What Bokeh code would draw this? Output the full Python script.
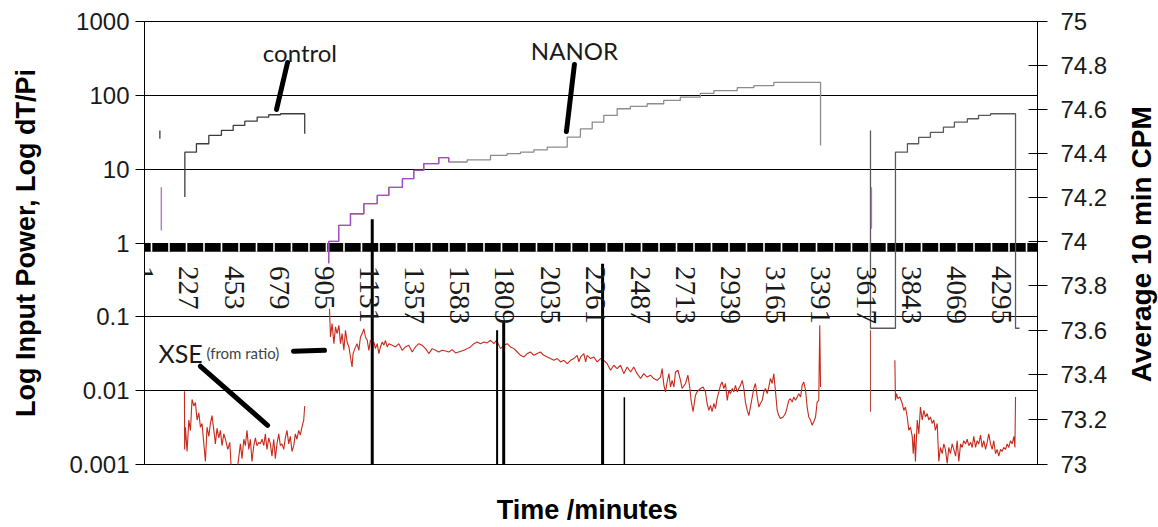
import math
import numpy as np
from bokeh.plotting import figure
from bokeh.layouts import row
from bokeh.core.properties import value
from bokeh.models import (Range1d, LinearAxis, FixedTicker, CustomJSTickFormatter,
                          Label, LabelSet, ColumnDataSource)
from bokeh.embed import file_html
from bokeh.resources import INLINE

# ---------------- data ----------------
x_tick_vals = [1, 227, 453, 679, 905, 1131, 1357, 1583, 1809, 2035, 2261, 2487,
               2713, 2939, 3165, 3391, 3617, 3843, 4069, 4295]
left_ticks = [0.001, 0.01, 0.1, 1, 10, 100, 1000]
grid_ticks = [0.01, 0.1, 1, 10, 100]
right_ticks = [73, 73.2, 73.4, 73.6, 73.8, 74, 74.2, 74.4, 74.6, 74.8, 75]

# control run 1 (step)
control1_x = [207, 207, 265, 327, 390, 449, 507, 569, 627, 686, 807]
control1_y = [4.19, 17.0, 22.1, 28.7, 33.5, 39.1, 44.7, 50.7, 54.6, 56.3, 30.2]
# control run 2 (step)
control2_x = [3639, 3639, 3764, 3824, 3880, 3939, 4004, 4059, 4124, 4180, 4240, 4365, 4385]
control2_y = [33.5, 0.070, 17.0, 22.1, 27.0, 31.5, 37.1, 43.3, 48.2, 53.4, 56.3, 0.070, 0.070]
# short start marks
ctrl_mark_x = [82]
ctrl_mark_y0 = [33.5]
ctrl_mark_y1 = [25.8]
nanor_mark_x = [89, 3644]
nanor_mark_y0 = [5.7, 5.7]
nanor_mark_y1 = [1.48, 1.56]

# NANOR (step)
nanor_x = [927, 927, 977, 1036, 1103, 1170, 1228, 1296, 1353, 1403, 1478, 1528, 1620,
           1737, 1820, 1887, 1954, 2021, 2121, 2187, 2246, 2304, 2371, 2437, 2521,
           2604, 2687, 2787, 2855, 2972, 3055, 3155, 3389]
nanor_y = [0.53, 1.05, 1.73, 2.49, 3.41, 4.41, 5.66, 7.43, 9.62, 11.9, 14.3, 12.5, 13.4,
           15.4, 16.2, 17.0, 18.3, 19.9, 27.2, 35.2, 43.3, 53.4, 65.8, 70.8, 76.9,
           85.3, 94.5, 106, 116, 127, 135, 150, 21.0]

# XSE (from ratio)
xse_left_x = [205, 206, 210, 218, 227, 235, 243, 252, 260, 268, 277, 285, 293, 302, 310,
              318, 327, 335, 343, 352, 360, 368, 377, 385, 393, 402, 410, 422, 432, 438,
              443, 452, 468, 485, 493, 502, 510, 518, 527, 535, 543, 552, 560, 568, 577,
              585, 593, 602, 610, 618, 627, 635, 643, 652, 660, 668, 677, 685, 693, 702,
              710, 718, 727, 735, 743, 752, 760, 768, 777, 785, 793, 802, 807]
xse_left_y = [0.0098, 0.0016, 0.0032, 0.0015, 0.0040, 0.0029, 0.0076, 0.0062, 0.0069, 0.0040,
              0.0050, 0.0032, 0.0036, 0.0019, 0.0011, 0.0032, 0.0024, 0.0036, 0.0046, 0.0029,
              0.0019, 0.0031, 0.0023, 0.0029, 0.0018, 0.0026, 0.0022, 0.0016, 0.0020, 0.00101,
              0.0008, 0.0009, 0.0008, 0.0019, 0.0012, 0.0022, 0.0018, 0.0029, 0.0016, 0.0022,
              0.0011, 0.0018, 0.0023, 0.0018, 0.0020, 0.0019, 0.0022, 0.0018, 0.0026, 0.0016,
              0.0023, 0.0019, 0.0013, 0.0022, 0.0012, 0.0019, 0.0026, 0.0018, 0.0019, 0.0016,
              0.0023, 0.0029, 0.0019, 0.0024, 0.0015, 0.0018, 0.0026, 0.0022, 0.0029, 0.0025,
              0.0032, 0.0040, 0.0062]

xse_mid_x = [931, 936, 944, 953, 961, 969, 978, 986, 994, 1003, 1011, 1019, 1028, 1036, 1044,
             1049, 1058, 1069, 1078, 1086, 1095, 1103, 1111, 1120, 1128, 1136, 1145, 1153,
             1161, 1170, 1178, 1186, 1195, 1203, 1211, 1220, 1228, 1245, 1261, 1278, 1295,
             1311, 1328, 1345, 1361, 1378, 1395, 1412, 1428, 1445, 1462, 1478, 1495, 1512,
             1528, 1545, 1562,
             1604, 1620, 1637, 1654, 1670, 1687, 1704, 1720, 1737, 1754, 1767, 1787, 1804,
             1821, 1837, 1854, 1871, 1887, 1904, 1921, 1937, 1954, 1971, 1987, 2004, 2021,
             2037, 2054, 2071, 2088, 2104, 2121, 2138, 2154, 2171, 2179, 2188, 2204, 2213,
             2221, 2238, 2254, 2271,
             2288, 2304, 2321, 2338, 2354, 2371, 2388, 2404, 2421, 2438, 2454, 2471, 2488,
             2504, 2521, 2538, 2554, 2571, 2588, 2596, 2605, 2613, 2621, 2630, 2638, 2646,
             2655, 2663, 2675, 2688, 2696, 2713, 2725, 2735, 2741, 2751, 2763, 2771, 2788,
             2801, 2813, 2821, 2830, 2838, 2846, 2855, 2863, 2871, 2880, 2888, 2896, 2905,
             2913, 2922, 2930, 2938, 2947, 2955, 2963, 2972, 2980, 2988, 2997, 3005, 3013,
             3022, 3030, 3038, 3047, 3055, 3063, 3072, 3080, 3088, 3097, 3105, 3113, 3122,
             3130, 3138, 3147, 3155, 3163, 3172, 3180, 3188, 3202, 3213, 3222, 3230, 3238,
             3247, 3255, 3264, 3272, 3280, 3289, 3297, 3305, 3314, 3322, 3330, 3339, 3347,
             3355, 3364, 3372, 3380, 3385, 3389]
xse_mid_y = [0.129, 0.0533, 0.081, 0.0433, 0.073, 0.0593, 0.0767, 0.0433, 0.0593, 0.0352,
             0.0657, 0.0456, 0.0391, 0.0286, 0.0209, 0.0318, 0.0371, 0.0433, 0.0352, 0.0533,
             0.0593, 0.069, 0.0533, 0.0481, 0.0352, 0.0481, 0.0433, 0.0456, 0.0371, 0.0433,
             0.0318, 0.0391, 0.0456, 0.0411, 0.0481, 0.0391, 0.0433, 0.0411, 0.0391, 0.0433,
             0.0352, 0.0391, 0.0411, 0.0334, 0.0391, 0.0433, 0.0411, 0.0371, 0.0318, 0.0371,
             0.0352, 0.0334, 0.0352, 0.0345, 0.0334, 0.0360, 0.0324,
             0.0352, 0.0371, 0.0391, 0.0433, 0.0456, 0.0433, 0.0456, 0.0443, 0.0481, 0.0433,
             0.0481, 0.0371, 0.0411, 0.0433, 0.0391, 0.0371, 0.0334, 0.0301, 0.0286, 0.0318,
             0.0334, 0.0301, 0.0318, 0.0334, 0.0301, 0.0286, 0.0272, 0.0258, 0.0272, 0.0245,
             0.0258, 0.0232, 0.0258, 0.0272, 0.0301, 0.0245, 0.0286, 0.0318, 0.0245, 0.0301,
             0.0272, 0.0286, 0.0245,
             0.0272, 0.0258, 0.0232, 0.0189, 0.0221, 0.0199, 0.0221, 0.0170, 0.0209, 0.0179,
             0.0209, 0.0170, 0.0146, 0.0170, 0.0153, 0.0162, 0.0146, 0.0138, 0.0153, 0.0199,
             0.0118, 0.0096, 0.0131, 0.0170, 0.0112, 0.0138, 0.0112, 0.0179, 0.0189, 0.0138,
             0.0107, 0.0125, 0.0162, 0.0107, 0.0074, 0.0052, 0.0087, 0.0096, 0.0107, 0.0112,
             0.0096, 0.0067, 0.0054, 0.0063, 0.0052, 0.0067, 0.0057, 0.0078, 0.0096, 0.0118,
             0.0131, 0.0107, 0.0125, 0.0074, 0.0101, 0.0091, 0.0107, 0.0096, 0.0118, 0.0096,
             0.0107, 0.0118, 0.0138, 0.0107, 0.0070, 0.0054, 0.0046, 0.0060, 0.0082, 0.0107,
             0.0125, 0.0082, 0.0060, 0.0067, 0.0074, 0.0096, 0.0107, 0.0091, 0.0112, 0.0146,
             0.0125, 0.0170, 0.0101, 0.0054, 0.0046, 0.0042, 0.0044, 0.0049, 0.0060, 0.0074,
             0.0078, 0.0070, 0.0082, 0.0074, 0.0082, 0.0091, 0.0082, 0.0118, 0.0131, 0.0101,
             0.0060, 0.0044, 0.0040, 0.0034, 0.0038, 0.0044, 0.0070, 0.0074, 0.0767, 0.0112]

xse_drop_x = [3639, 3639]
xse_drop_y = [0.066, 0.0052]

xse_right_x = [3761, 3764, 3769, 3776, 3786, 3798, 3806, 3814, 3823, 3831, 3839, 3848, 3853,
               3859, 3864, 3873, 3881, 3889, 3898, 3906, 3914, 3923, 3931, 3939, 3948, 3956,
               3964, 3973, 3981, 3989, 3998, 4006, 4014, 4023, 4031, 4039, 4048, 4056, 4065,
               4073, 4081, 4090, 4098, 4106, 4115, 4123, 4131, 4140, 4148, 4156, 4165, 4173,
               4181, 4190, 4198, 4206, 4215, 4223, 4231, 4240, 4248, 4256, 4265, 4273, 4281,
               4290, 4298, 4306, 4315, 4323, 4331, 4340, 4348, 4357, 4362, 4365]
xse_right_y = [0.0258, 0.0074, 0.0091, 0.0078, 0.0082, 0.0067, 0.0054, 0.0060, 0.0044, 0.0029,
               0.0032, 0.0024, 0.0014, 0.0026, 0.0011, 0.0040, 0.0026, 0.0060, 0.0040, 0.0054,
               0.0044, 0.0049, 0.0040, 0.0044, 0.0036, 0.0040, 0.0029, 0.0036, 0.0011, 0.0017,
               0.0014, 0.0019, 0.0016, 0.00103, 0.0017, 0.0014, 0.0019, 0.0016, 0.0013, 0.0021,
               0.0011, 0.0019, 0.0017, 0.0021, 0.0019, 0.0022, 0.0018, 0.0020, 0.0017, 0.0024,
               0.0017, 0.0021, 0.0019, 0.0025, 0.0017, 0.0021, 0.0016, 0.0020, 0.0026, 0.0019,
               0.0016, 0.0021, 0.0014, 0.0016, 0.0013, 0.0016, 0.0015, 0.0017, 0.0016, 0.0019,
               0.0017, 0.0021, 0.0019, 0.0024, 0.0017, 0.0082]

# Average 10 min CPM spikes (right axis)
cpm_x = [1145, 1770, 1803, 2298, 2407]
cpm_y = [74.10, 73.60, 73.64, 73.90, 73.30]

# annotation pointer lines
ptr_control_x = [721, 666]
ptr_control_y = [278, 64.4]
ptr_nanor_x = [2157, 2117]
ptr_nanor_y = [262, 32.4]
ptr_xse_x = [285, 621]
ptr_xse_y = [0.0214, 0.0034]
ptr_xse2_x = [751, 906]
ptr_xse2_y = [0.0341, 0.0352]

# ---------------- figure ----------------
X0, X1 = 5, 4475
FONT = "Liberation Sans"
INK = "#1a1a1a"
SIDE_W = 44          # narrow panel carrying the right-hand axis title

p = figure(width=1158 - SIDE_W, height=527, x_range=Range1d(X0, X1),
           y_range=Range1d(0.001, 1000), y_axis_type="log", output_backend="svg",
           toolbar_location=None, min_border_left=144, min_border_right=121 - SIDE_W,
           min_border_top=21, min_border_bottom=63)
p.extra_y_ranges = {"cpm": Range1d(73, 75)}
p.background_fill_color = "white"
p.border_fill_color = "white"
p.outline_line_color = "black"
p.outline_line_width = 1

p.xgrid.visible = False
p.ygrid.ticker = FixedTicker(ticks=grid_ticks)
p.ygrid.grid_line_color = "black"
p.ygrid.grid_line_width = 1
p.ygrid.minor_grid_line_color = None

# bottom axis: title only
xa = p.xaxis[0]
xa.ticker = FixedTicker(ticks=[])
xa.axis_line_color = None
xa.major_tick_line_color = None
xa.minor_tick_line_color = None
xa.major_label_text_font_size = "0px"
xa.axis_label = "Time  /minutes"
xa.axis_label_text_font = FONT
xa.axis_label_text_font_style = "bold"
xa.axis_label_text_font_size = "27px"
xa.axis_label_text_color = "black"
xa.axis_label_standoff = 30

ya = p.yaxis[0]
ya.ticker = FixedTicker(ticks=left_ticks)
ya.formatter = CustomJSTickFormatter(code="return String(tick);")
ya.major_tick_out = 9
ya.major_tick_in = 0
ya.minor_tick_line_color = None
ya.major_tick_line_color = "black"
ya.axis_line_color = "black"
ya.major_label_standoff = 6
ya.major_label_text_font = FONT
ya.major_label_text_font_size = "24px"
ya.major_label_text_color = INK
ya.axis_label = "Log Input Power, Log dT/Pi"
ya.axis_label_text_font = FONT
ya.axis_label_text_font_style = "bold"
ya.axis_label_text_font_size = "27px"
ya.axis_label_text_color = "black"
ya.axis_label_standoff = 25

ra = LinearAxis(y_range_name="cpm", ticker=FixedTicker(ticks=right_ticks),
                formatter=CustomJSTickFormatter(code="return String(Number(tick.toFixed(1)));"))
ra.major_tick_in = 9
ra.major_tick_out = 10
ra.minor_tick_line_color = None
ra.major_tick_line_color = "black"
ra.axis_line_color = "black"
ra.major_label_standoff = 13
ra.major_label_text_font = FONT
ra.major_label_text_font_size = "24px"
ra.major_label_text_color = INK
p.add_layout(ra, "right")

# x-axis band through y = 1
band_bottom = 10 ** (-8.7 / 73.88)
p.quad(left=[X0], right=[X1], bottom=[band_bottom], top=[1], fill_color="black", line_color=None)
gap_x = np.arange(40, X1, 87.6)
p.segment(x0=gap_x, y0=band_bottom, x1=gap_x, y1=1, line_color="white", line_width=1.6)

# series
p.line(xse_left_x, xse_left_y, line_color="#c62a1c", line_width=1.1)
p.line(xse_mid_x, xse_mid_y, line_color="#c62a1c", line_width=1.1)
p.line(xse_right_x, xse_right_y, line_color="#c62a1c", line_width=1.1)
p.line(xse_drop_x, xse_drop_y, line_color="#b04a40", line_width=1.1)

p.step(control1_x, control1_y, mode="after", line_color="#3c3c3c", line_width=1.3)
p.step(control2_x, control2_y, mode="after", line_color="#5a5a5a", line_width=1.3)
p.segment(x0=ctrl_mark_x, y0=ctrl_mark_y0, x1=ctrl_mark_x, y1=ctrl_mark_y1,
          line_color="#3c3c3c", line_width=1.3)

p.step(nanor_x, nanor_y, mode="after", line_color="#8c8c8c", line_width=1.3)
p.step(nanor_x[:12], nanor_y[:12], mode="after", line_color="#a34cc4", line_width=1.3)
p.segment(x0=nanor_mark_x, y0=nanor_mark_y0, x1=nanor_mark_x, y1=nanor_mark_y1,
          line_color="#b070c8", line_width=1.3)

cpm_widths = [3, 2, 3, 3, 1.5]
p.segment(x0=cpm_x, y0=[72.5] * len(cpm_x), x1=cpm_x, y1=cpm_y, y_range_name="cpm",
          line_color="black", line_width=cpm_widths)

# pointer lines
for lx, ly in [(ptr_control_x, ptr_control_y), (ptr_nanor_x, ptr_nanor_y),
               (ptr_xse_x, ptr_xse_y), (ptr_xse2_x, ptr_xse2_y)]:
    p.line(lx, ly, line_color="black", line_width=5, line_cap="round")

# x tick labels at y = 1
xlab_y = 10 ** (-23 / 73.88)
src = ColumnDataSource(dict(x=x_tick_vals, y=[xlab_y] * len(x_tick_vals),
                            t=[str(v) for v in x_tick_vals]))
p.add_layout(LabelSet(x="x", y="y", text="t", source=src, angle=-math.pi / 2,
                      text_align="left", text_baseline="middle", text_font=FONT,
                      text_font_size="29px", text_color=INK))

# annotations
ANN = "Lato"
p.add_layout(Label(x=783, y=380, text="control", text_align="center",
                   text_baseline="alphabetic", text_font=ANN, text_font_size="24px",
                   text_color=INK))
p.add_layout(Label(x=2157, y=405, text="NANOR", text_align="center",
                   text_baseline="alphabetic", text_font=ANN, text_font_size="24px",
                   text_color=INK))
p.add_layout(Label(x=75, y=0.0321, text="XSE", text_align="left",
                   text_baseline="alphabetic", text_font=ANN, text_font_size="25px",
                   text_color=INK))
p.add_layout(Label(x=315, y=0.0321, text="(from ratio)", text_align="left",
                   text_baseline="alphabetic", text_font=ANN, text_font_size="15px",
                   text_color="#444444"))

# right-hand axis title in a narrow side panel (reads bottom to top)
side = figure(width=SIDE_W, height=527, x_range=Range1d(0, SIDE_W), y_range=Range1d(0, 527),
              x_axis_location=None, y_axis_location=None, output_backend="svg",
              toolbar_location=None, min_border=0)
side.outline_line_color = None
side.grid.visible = False
side.background_fill_color = "white"
side.border_fill_color = "white"
side.text(x=[27], y=[527 - 265], text=["Average 10 min CPM"], angle=math.pi / 2,
          text_align="center", text_baseline="middle", text_font=value(FONT),
          text_font_style="bold", text_font_size="28px", text_color="black")

layout = row(p, side, spacing=0)
open("out.html", "w").write(file_html(layout, INLINE))
